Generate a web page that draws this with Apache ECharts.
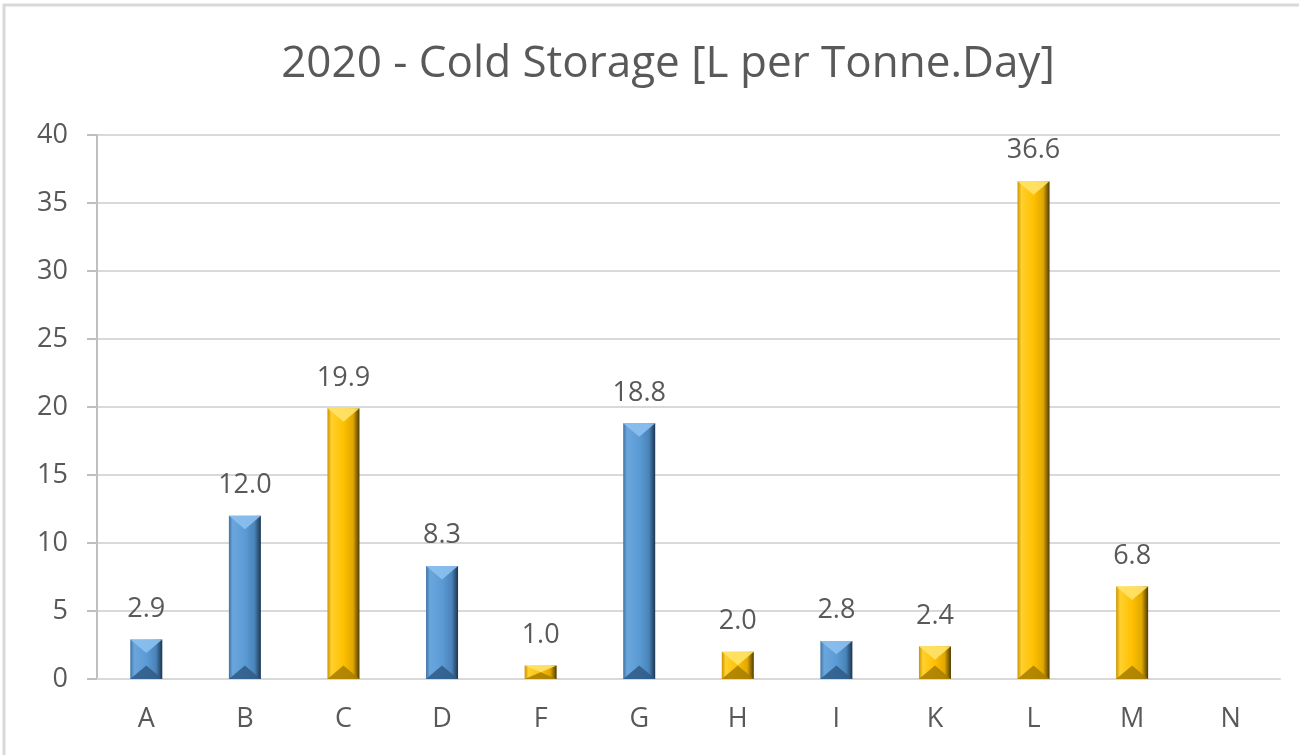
<!DOCTYPE html>
<html>
<head>
<meta charset="utf-8">
<script src="https://cdn.jsdelivr.net/npm/echarts@6/dist/echarts.min.js"></script>
<style>
html,body{margin:0;padding:0;background:#fff;}
#chart{width:1299px;height:755px;}
</style>
</head>
<body>
<div id="chart"></div>
<script>
const categories = ['A','B','C','D','F','G','H','I','K','L','M','N'];
const values = [2.9, 12.0, 19.9, 8.3, 1.0, 18.8, 2.0, 2.8, 2.4, 36.6, 6.8, null];
const groups = ['blue','blue','gold','blue','gold','blue','gold','blue','gold','gold','gold','gold'];
const yTicks = [0, 5, 10, 15, 20, 25, 30, 35, 40];
const titleText = '2020 - Cold Storage [L per Tonne.Day]';

const palette = {
  blue: {
    body: ['#3f73a4', '#6aa6dc', '#5b9bd5', '#4a84b9', '#1c3550'],
    top: '#8cc0ef',
    bottom: '#2f5b86'
  },
  gold: {
    body: ['#c99400', '#ffd030', '#ffc000', '#e0a800', '#4e3a00'],
    top: '#ffe36a',
    bottom: '#a67c00'
  }
};

function bodyGradient(g) {
  const c = palette[g].body;
  return new echarts.graphic.LinearGradient(0, 0, 1, 0, [
    {offset: 0, color: c[0]},
    {offset: 0.12, color: c[1]},
    {offset: 0.5, color: c[2]},
    {offset: 0.8, color: c[3]},
    {offset: 1, color: c[4]}
  ]);
}

const BAR_W = 32;
const chart = echarts.init(document.getElementById('chart'));
const textColor = '#595959';
const fontFam = '"Open Sans", "Noto Sans", sans-serif';

chart.setOption({
  animation: false,
  backgroundColor: '#fff',
  title: {
    text: titleText,
    left: 663,
    textAlign: 'center',
    top: 37,
    textStyle: {fontFamily: '"Open Sans", sans-serif', fontSize: 44, fontWeight: 'normal', color: textColor}
  },
  graphic: [{
    type: 'rect',
    shape: {x: 4, y: 5, width: 1310, height: 780},
    style: {fill: 'none', stroke: '#d9d9d9', lineWidth: 3},
    silent: true
  }],
  grid: {left: 97, right: 19, top: 135, bottom: 76, containLabel: false},
  xAxis: {
    type: 'category',
    data: categories,
    axisLine: {show: true, lineStyle: {color: '#d9d9d9', width: 2}},
    axisTick: {show: false},
    axisLabel: {color: textColor, fontSize: 27, fontFamily: fontFam, margin: 27}
  },
  yAxis: {
    type: 'value',
    min: yTicks[0],
    max: yTicks[yTicks.length - 1],
    interval: 5,
    axisLine: {show: true, lineStyle: {color: '#bfbfbf', width: 2}},
    axisTick: {show: true, length: 10, lineStyle: {color: '#bfbfbf', width: 2}},
    axisLabel: {color: textColor, fontSize: 27, fontFamily: fontFam, margin: 29},
    splitLine: {show: true, lineStyle: {color: '#d9d9d9', width: 2}}
  },
  series: [{
    type: 'bar',
    barWidth: BAR_W,
    data: values.map((v, i) => ({
      value: v,
      itemStyle: {color: bodyGradient(groups[i])}
    })),
    label: {
      show: true,
      position: 'top',
      distance: 17,
      color: textColor,
      fontSize: 27,
      fontFamily: fontFam,
      formatter: p => p.value == null ? '' : Number(p.value).toFixed(1)
    },
    z: 2
  }, {
    type: 'custom',
    data: values.map((v, i) => [i, v]),
    z: 3,
    silent: true,
    renderItem: function (params, api) {
      const v = api.value(1);
      if (v == null || isNaN(v)) return null;
      const idx = params.dataIndex;
      const g = groups[idx];
      const top = api.coord([api.value(0), v]);
      const bot = api.coord([api.value(0), 0]);
      const cx = top[0];
      const x0 = cx - BAR_W / 2, x1 = cx + BAR_W / 2;
      const h = bot[1] - top[1];
      const d = Math.min(BAR_W * 0.42, h / 2);
      return {
        type: 'group',
        children: [{
          type: 'polygon',
          shape: {points: [[x0, top[1]], [x1, top[1]], [cx, top[1] + d]]},
          style: {fill: palette[g].top, opacity: 0.9}
        }, {
          type: 'polygon',
          shape: {points: [[x0, bot[1]], [x1, bot[1]], [cx, bot[1] - d]]},
          style: {fill: palette[g].bottom, opacity: 0.85}
        }]
      };
    }
  }]
});
</script>
</body>
</html>
